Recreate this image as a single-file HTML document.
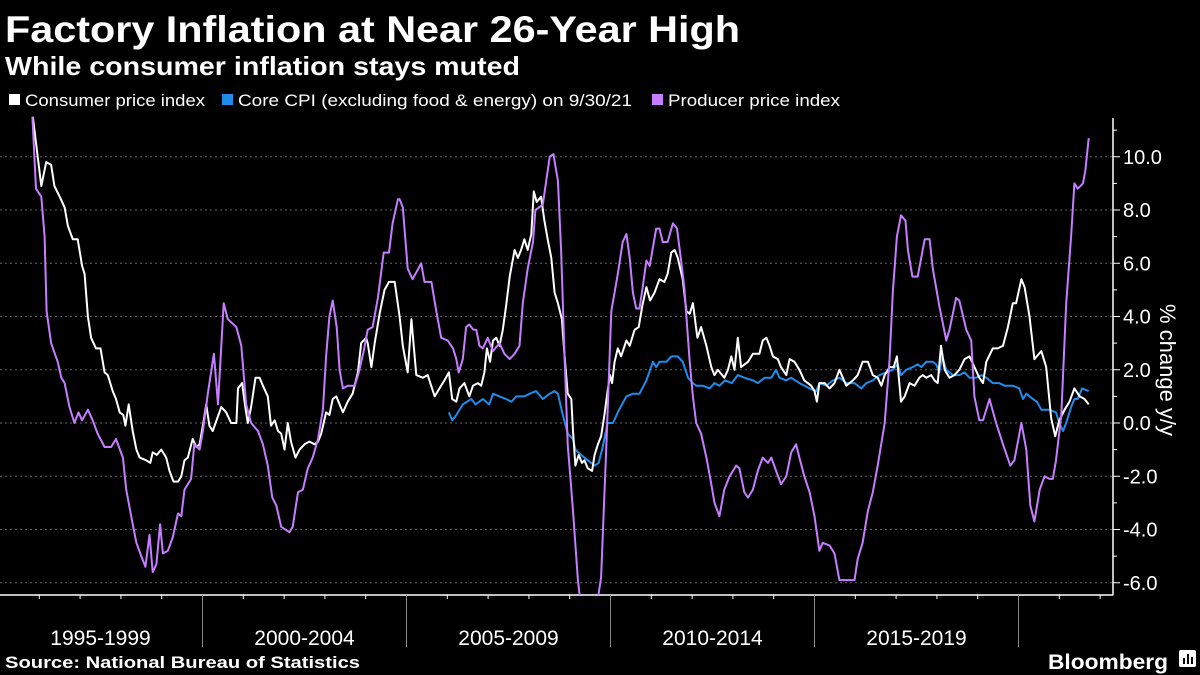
<!DOCTYPE html>
<html><head><meta charset="utf-8">
<style>
html,body{margin:0;padding:0;background:#000;}
svg{display:block;font-family:"Liberation Sans",sans-serif;}
</style></head>
<body>
<svg id="chart" width="1200" height="675" viewBox="0 0 1200 675">
<text x="5" y="42" font-size="37" font-weight="bold" fill="#fff" textLength="735" lengthAdjust="spacingAndGlyphs">Factory Inflation at Near 26-Year High</text>
<text x="5" y="75" font-size="26" font-weight="bold" fill="#fff" textLength="515" lengthAdjust="spacingAndGlyphs">While consumer inflation stays muted</text>
<g>
<g><rect x="9" y="94" width="11" height="11" fill="#fff"/><text x="25" y="106" font-size="17" fill="#fff" textLength="180" lengthAdjust="spacingAndGlyphs">Consumer price index</text></g>
<g><rect x="222" y="94" width="11" height="11" fill="#1f8ceb"/><text x="238" y="106" font-size="17" fill="#fff" textLength="394" lengthAdjust="spacingAndGlyphs">Core CPI (excluding food &amp; energy) on 9/30/21</text></g>
<g><rect x="652" y="94" width="11" height="11" fill="#c77dff"/><text x="668" y="106" font-size="17" fill="#fff" textLength="172" lengthAdjust="spacingAndGlyphs">Producer price index</text></g>
</g>
<g id="grid"></g>
<g id="xaxis"></g>
<g id="yaxis"></g>
<defs><clipPath id="plotclip"><rect x="0" y="112" width="1113" height="483"/></clipPath></defs>
<g id="series" clip-path="url(#plotclip)"></g>
<text transform="translate(1160,370) rotate(90)" text-anchor="middle" font-size="22" fill="#fff">% change y/y</text>
<text x="5" y="668" font-size="17" font-weight="bold" fill="#fff" textLength="355" lengthAdjust="spacingAndGlyphs">Source: National Bureau of Statistics</text>
<text x="1048" y="669" font-size="21" font-weight="bold" fill="#fff" textLength="120" lengthAdjust="spacingAndGlyphs">Bloomberg</text>
<g><rect x="1179" y="650" width="17" height="17" rx="2" fill="#fff"/><rect x="1183" y="658" width="2" height="6" fill="#000"/><rect x="1187" y="654" width="2" height="10" fill="#000"/><rect x="1191" y="657" width="2" height="7" fill="#000"/></g>
</svg>
<script>
const yTicks = [-6, -4, -2, 0, 2, 4, 6, 8, 10];
const periodLabels = ["1995-1999", "2000-2004", "2005-2009", "2010-2014", "2015-2019"];
const periodStarts = [1995, 2000, 2005, 2010, 2015, 2020];

const ppiDates = [1995.83,1995.92,1996.05,1996.13,1996.18,1996.29,1996.45,1996.54,1996.62,1996.74,1996.86,1996.96,1997.05,1997.19,1997.31,1997.43,1997.60,1997.76,1997.88,1998.05,1998.13,1998.29,1998.38,1998.50,1998.60,1998.70,1998.78,1998.87,1998.96,1999.03,1999.15,1999.27,1999.40,1999.48,1999.56,1999.72,1999.80,1999.93,2000.01,2000.13,2000.28,2000.38,2000.52,2000.62,2000.83,2000.95,2001.07,2001.19,2001.36,2001.48,2001.60,2001.71,2001.81,2001.93,2002.13,2002.21,2002.34,2002.46,2002.58,2002.70,2002.83,2002.95,2003.03,2003.11,2003.19,2003.29,2003.36,2003.44,2003.56,2003.73,2003.83,2003.95,2004.05,2004.17,2004.30,2004.44,2004.57,2004.66,2004.79,2004.83,2004.91,2005.03,2005.15,2005.36,2005.44,2005.61,2005.73,2005.85,2006.01,2006.14,2006.22,2006.28,2006.38,2006.46,2006.54,2006.64,2006.71,2006.79,2006.87,2006.99,2007.12,2007.28,2007.40,2007.53,2007.65,2007.77,2007.85,2007.97,2008.10,2008.16,2008.34,2008.51,2008.60,2008.71,2008.79,2008.87,2008.95,2009.08,2009.20,2009.32,2009.49,2009.65,2009.77,2009.90,2010.02,2010.18,2010.30,2010.39,2010.47,2010.55,2010.63,2010.71,2010.79,2010.88,2010.96,2011.12,2011.20,2011.28,2011.40,2011.53,2011.63,2011.73,2011.81,2011.86,2011.94,2012.02,2012.10,2012.22,2012.35,2012.47,2012.55,2012.67,2012.79,2012.92,2013.08,2013.16,2013.28,2013.37,2013.49,2013.61,2013.73,2013.86,2013.94,2014.06,2014.18,2014.31,2014.43,2014.55,2014.63,2014.75,2014.88,2015.00,2015.12,2015.20,2015.37,2015.49,2015.61,2015.78,2015.98,2016.06,2016.18,2016.31,2016.43,2016.55,2016.72,2016.84,2016.92,2017.02,2017.12,2017.23,2017.29,2017.40,2017.53,2017.70,2017.82,2017.90,2018.06,2018.23,2018.31,2018.47,2018.55,2018.72,2018.84,2018.92,2019.04,2019.13,2019.29,2019.45,2019.62,2019.80,2019.90,2020.07,2020.19,2020.29,2020.39,2020.52,2020.64,2020.76,2020.84,2020.92,2021.05,2021.17,2021.29,2021.37,2021.45,2021.58,2021.64,2021.72];
const ppiValues = [11.5,8.8,8.5,7.0,4.2,3.0,2.3,1.7,1.5,0.6,0.0,0.4,0.1,0.5,0.1,-0.4,-0.9,-0.9,-0.6,-1.3,-2.5,-3.8,-4.5,-5.0,-5.4,-4.2,-5.6,-5.3,-3.8,-4.9,-4.8,-4.3,-3.4,-3.5,-2.5,-2.1,-0.8,-1.0,-0.3,1.1,2.6,0.7,4.5,3.9,3.6,2.9,0.7,0.0,-0.3,-0.8,-1.6,-2.8,-3.1,-3.9,-4.1,-3.9,-2.6,-2.5,-1.7,-1.3,-0.6,0.5,2.5,4.0,4.6,3.6,2.0,1.3,1.4,1.4,1.9,2.7,3.5,3.6,4.7,6.4,6.4,7.5,8.4,8.4,8.1,5.8,5.4,6.0,5.3,5.3,4.2,3.2,3.1,2.8,2.4,1.9,2.4,3.6,3.7,3.5,3.5,2.9,2.8,3.2,2.7,3.0,2.6,2.4,2.6,2.9,4.5,5.8,6.8,8.0,8.2,10.0,10.1,9.1,6.5,2.7,-0.8,-3.3,-5.9,-7.5,-8.0,-7.0,-5.8,-0.8,4.2,5.6,6.8,7.1,6.2,4.9,4.3,4.3,5.1,6.1,5.9,7.3,7.3,6.8,6.8,7.5,7.3,6.1,5.1,4.0,2.3,1.0,0.0,-0.4,-1.3,-2.3,-3.0,-3.5,-2.5,-2.0,-1.6,-1.7,-2.6,-2.8,-2.5,-1.8,-1.3,-1.5,-1.3,-1.8,-2.3,-2.0,-1.1,-0.8,-1.3,-2.0,-2.6,-3.5,-4.8,-4.5,-4.6,-4.9,-5.9,-5.9,-5.9,-5.1,-4.5,-3.3,-2.6,-1.6,0.0,2.4,4.9,7.0,7.8,7.6,6.5,5.5,5.5,6.9,6.9,5.8,4.4,3.1,3.5,4.7,4.6,3.5,3.1,1.0,0.1,0.1,0.9,0.0,-0.8,-1.6,-1.4,0.0,-1.0,-3.1,-3.7,-2.5,-2.0,-2.1,-2.1,-1.4,0.3,4.5,7.0,9.0,8.8,9.0,9.5,10.7];

const cpiDates = [1995.84,1996.05,1996.17,1996.29,1996.37,1996.50,1996.62,1996.70,1996.82,1996.94,1997.05,1997.11,1997.19,1997.27,1997.39,1997.50,1997.60,1997.68,1997.80,1997.88,1997.97,1998.06,1998.11,1998.19,1998.29,1998.38,1998.46,1998.62,1998.72,1998.78,1998.88,1998.99,1999.11,1999.19,1999.29,1999.40,1999.48,1999.56,1999.64,1999.76,1999.85,1999.93,2000.02,2000.09,2000.17,2000.25,2000.46,2000.58,2000.70,2000.83,2000.87,2000.97,2001.05,2001.11,2001.19,2001.30,2001.40,2001.48,2001.60,2001.68,2001.77,2001.85,2001.93,2002.01,2002.09,2002.17,2002.28,2002.38,2002.50,2002.62,2002.75,2002.83,2002.91,2003.03,2003.11,2003.19,2003.28,2003.44,2003.56,2003.68,2003.81,2003.89,2004.01,2004.05,2004.14,2004.22,2004.34,2004.46,2004.57,2004.71,2004.83,2004.91,2005.03,2005.12,2005.24,2005.40,2005.52,2005.69,2005.81,2005.93,2006.04,2006.12,2006.22,2006.30,2006.42,2006.54,2006.63,2006.75,2006.83,2006.91,2006.97,2007.05,2007.12,2007.20,2007.28,2007.36,2007.44,2007.53,2007.65,2007.73,2007.81,2007.89,2007.97,2008.06,2008.12,2008.19,2008.30,2008.38,2008.46,2008.55,2008.63,2008.71,2008.81,2008.87,2008.95,2009.04,2009.08,2009.14,2009.22,2009.30,2009.36,2009.44,2009.55,2009.61,2009.69,2009.77,2009.85,2009.93,2009.99,2010.04,2010.10,2010.18,2010.26,2010.39,2010.47,2010.59,2010.69,2010.78,2010.88,2010.97,2011.08,2011.20,2011.32,2011.40,2011.49,2011.57,2011.65,2011.77,2011.86,2011.94,2012.02,2012.13,2012.22,2012.35,2012.47,2012.55,2012.63,2012.79,2012.88,2012.96,2013.04,2013.12,2013.20,2013.37,2013.49,2013.65,2013.73,2013.82,2013.90,2013.98,2014.10,2014.18,2014.31,2014.39,2014.51,2014.63,2014.75,2014.92,2015.00,2015.06,2015.12,2015.25,2015.37,2015.49,2015.61,2015.78,2015.94,2016.06,2016.18,2016.31,2016.43,2016.55,2016.64,2016.72,2016.84,2016.94,2017.02,2017.12,2017.21,2017.33,2017.45,2017.57,2017.65,2017.74,2017.86,2017.94,2018.02,2018.10,2018.19,2018.31,2018.43,2018.55,2018.68,2018.80,2018.92,2019.04,2019.13,2019.21,2019.37,2019.49,2019.62,2019.74,2019.86,2019.94,2020.07,2020.15,2020.27,2020.39,2020.56,2020.68,2020.80,2020.90,2021.00,2021.13,2021.25,2021.37,2021.50,2021.62,2021.72];
const cpiValues = [11.5,8.9,9.8,9.7,8.9,8.5,8.1,7.4,6.9,6.9,5.9,5.6,4.0,3.2,2.8,2.8,1.9,1.8,1.2,0.9,0.4,0.3,-0.1,0.7,-0.3,-1.0,-1.3,-1.4,-1.5,-1.1,-1.2,-1.0,-1.3,-1.8,-2.2,-2.2,-2.0,-1.4,-1.3,-0.6,-0.9,-0.8,0.0,0.7,-0.1,-0.3,0.6,0.4,0.0,0.0,1.3,1.5,0.6,0.0,0.6,1.7,1.7,1.4,1.0,-0.1,0.1,-0.3,-0.4,-1.0,0.0,-0.7,-1.3,-1.0,-0.8,-0.7,-0.8,-0.7,-0.4,0.4,0.3,0.9,1.0,0.4,0.8,1.1,1.9,3.0,3.2,3.0,2.1,3.0,4.1,5.0,5.3,5.3,4.0,2.9,1.9,3.9,1.8,1.7,1.8,1.0,1.3,1.6,1.9,0.9,0.8,1.3,1.5,1.0,1.4,1.5,1.4,1.9,2.8,2.3,3.1,3.2,2.9,3.5,4.4,5.5,6.5,6.2,6.5,6.9,6.5,7.1,8.7,8.3,8.5,7.6,6.9,6.2,4.9,4.5,3.9,2.6,1.1,0.9,-0.3,-1.6,-1.2,-1.5,-1.4,-1.7,-1.8,-1.2,-0.8,-0.5,0.3,1.2,1.8,1.5,2.3,2.8,2.5,3.1,2.9,3.5,3.6,4.4,5.1,4.6,4.9,5.4,5.3,5.6,6.4,6.5,6.2,5.4,4.2,4.1,4.5,3.2,3.6,2.9,2.1,1.8,2.0,1.7,2.0,2.5,2.0,3.2,2.1,2.3,2.6,2.6,3.1,3.2,2.9,2.5,2.4,2.1,1.8,2.4,2.3,2.0,1.6,1.4,1.2,0.8,1.5,1.5,1.3,1.5,2.0,1.4,1.6,1.8,2.3,2.3,1.8,1.7,1.4,1.8,2.1,2.1,2.5,0.8,1.0,1.5,1.4,1.7,1.8,1.7,1.8,1.6,1.5,2.9,2.0,1.7,1.8,2.0,2.4,2.5,2.1,1.7,1.5,2.3,2.8,2.8,2.9,3.6,4.5,4.5,5.4,5.1,4.0,2.4,2.7,2.1,0.2,-0.5,0.1,0.5,0.8,1.3,1.0,0.9,0.7];

const coreDates = [2006.04,2006.12,2006.22,2006.38,2006.59,2006.69,2006.87,2007.03,2007.12,2007.28,2007.44,2007.57,2007.69,2007.89,2008.02,2008.18,2008.34,2008.51,2008.63,2008.71,2008.83,2008.95,2009.08,2009.14,2009.28,2009.44,2009.61,2009.71,2009.81,2009.93,2010.06,2010.18,2010.39,2010.55,2010.71,2010.88,2011.04,2011.12,2011.20,2011.37,2011.49,2011.65,2011.77,2011.90,2012.02,2012.10,2012.26,2012.43,2012.55,2012.67,2012.81,2012.97,2013.12,2013.28,2013.49,2013.61,2013.78,2013.94,2014.06,2014.14,2014.31,2014.43,2014.63,2014.88,2015.04,2015.12,2015.29,2015.45,2015.61,2015.78,2015.98,2016.15,2016.27,2016.43,2016.59,2016.76,2016.92,2017.04,2017.12,2017.25,2017.41,2017.53,2017.62,2017.74,2017.90,2017.98,2018.06,2018.13,2018.23,2018.39,2018.55,2018.68,2018.80,2018.96,2019.09,2019.21,2019.37,2019.53,2019.66,2019.86,2020.02,2020.11,2020.19,2020.35,2020.45,2020.56,2020.76,2020.92,2021.00,2021.09,2021.17,2021.29,2021.37,2021.45,2021.56,2021.72];
const coreValues = [0.4,0.1,0.3,0.7,0.9,0.7,0.9,0.7,1.1,1.0,0.9,0.8,1.0,1.0,1.1,1.2,0.9,1.1,1.2,1.1,0.3,-0.4,-0.6,-1.0,-1.2,-1.4,-1.6,-1.5,-0.9,0.0,0.0,0.4,1.0,1.1,1.1,1.6,2.3,2.1,2.3,2.3,2.5,2.5,2.3,1.7,1.5,1.4,1.4,1.3,1.5,1.4,1.6,1.5,1.8,1.7,1.6,1.5,1.7,1.7,2.0,1.7,1.6,1.7,1.5,1.3,1.2,1.5,1.4,1.6,1.7,1.5,1.5,1.3,1.5,1.6,1.8,1.9,2.0,2.2,1.8,2.0,2.1,2.2,2.1,2.3,2.3,2.2,1.9,2.5,2.0,1.8,1.8,1.9,1.7,1.7,1.8,1.7,1.5,1.5,1.4,1.4,1.3,0.9,1.1,0.9,0.8,0.5,0.5,0.4,0.0,-0.3,0.0,0.6,0.9,0.9,1.3,1.2];

const NS = "http://www.w3.org/2000/svg";
function xScale(t){ return -1.5 + (t - 1995) * 40.8; }
function yScale(v){ return 423 - v * 26.625; }
function mk(tag, attrs, parent){ const e = document.createElementNS(NS, tag); for (const k in attrs) e.setAttribute(k, attrs[k]); parent.appendChild(e); return e; }

const grid = document.getElementById('grid');
const yaxis = document.getElementById('yaxis');
const xaxis = document.getElementById('xaxis');
const series = document.getElementById('series');

yTicks.forEach(v => {
  const g = mk('line', {x1:0, x2:1113, y1:yScale(v), y2:yScale(v), stroke:'#666', 'stroke-width':1, 'stroke-dasharray':'2,3'}, grid);
  
  
  mk('line', {x1:1113, x2:1120, y1:yScale(v), y2:yScale(v), stroke:'#fff', 'stroke-width':1}, yaxis);
  mk('line', {x1:1113, x2:1117, y1:yScale(v+1), y2:yScale(v+1), stroke:'#fff', 'stroke-width':1}, yaxis);
  const t = mk('text', {x:1123, y:yScale(v)+7, 'font-size':20, fill:'#fff'}, yaxis);
  t.textContent = v.toFixed(1);
  
  
});
mk('line', {x1:1113, x2:1113, y1:118, y2:595.5, stroke:'#fff', 'stroke-width':1.5}, yaxis);
mk('line', {x1:0, x2:1113, y1:595, y2:595, stroke:'#fff', 'stroke-width':1.5}, xaxis);
for (let yr = 1995; yr <= 2022; yr++) {
  mk('line', {x1:xScale(yr), x2:xScale(yr), y1:595, y2:599, stroke:'#fff', 'stroke-width':1}, xaxis);
}
periodStarts.forEach(yr => {
  if (yr === 1995) return;
  const d = mk('line', {x1:xScale(yr), x2:xScale(yr), y1:595, y2:647, stroke:'#888', 'stroke-width':1}, xaxis);
  
  
});
periodLabels.forEach((lab, i) => {
  const t = mk('text', {x:xScale(periodStarts[i] + 2.5), y:645, 'font-size':21, fill:'#fff', 'text-anchor':'middle'}, xaxis);
  t.textContent = lab;
  
  
});

function drawLine(dates, vals, color, name){
  const d = dates.map((t, i) => (i ? 'L' : 'M') + xScale(t).toFixed(1) + ',' + yScale(vals[i]).toFixed(1)).join(' ');
  const p = mk('path', {d:d, fill:'none', stroke:color, 'stroke-width':2, 'stroke-linejoin':'round'}, series);
  
  
}
drawLine(coreDates, coreValues, '#1f8ceb', 'core-cpi-line');
drawLine(cpiDates, cpiValues, '#ffffff', 'cpi-line');
drawLine(ppiDates, ppiValues, '#c77dff', 'ppi-line');
</script>
</body></html>
